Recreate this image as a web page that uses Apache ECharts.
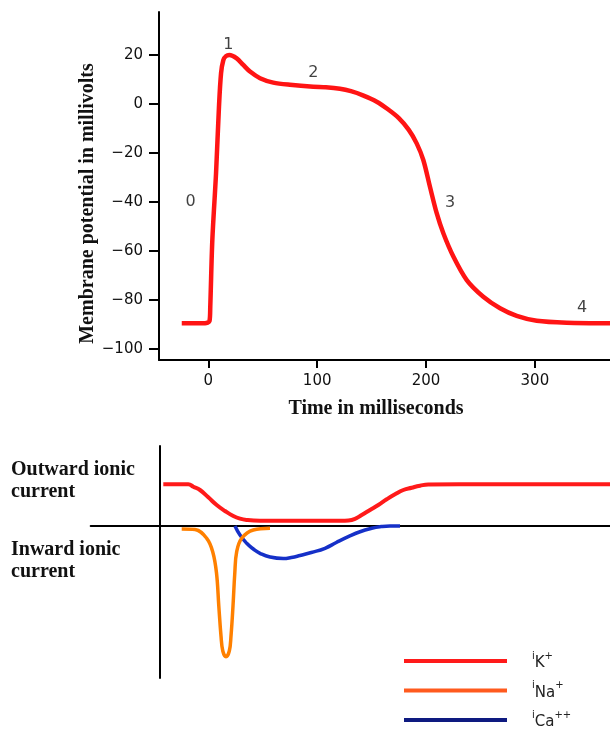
<!DOCTYPE html>
<html>
<head>
<meta charset="utf-8">
<script src="https://cdn.jsdelivr.net/npm/echarts@6/dist/echarts.min.js"></script>
<style>html,body{margin:0;padding:0;background:#fff;}#chart{width:610px;height:733px;}</style>
</head>
<body>
<div id="chart"></div>
<script>
// ---- Action potential (top panel) ----
const apTime = [-24.4, -3.0, 1.1, 1.8, 3.7, 7.1, 9.8, 11.7, 13.8, 16.2, 19.3, 26.1, 32.1, 38.3, 47.5, 59.7, 75.0, 96.4, 108.0, 120.9, 131.0, 142.0, 154.7, 165.0, 175.0, 184.0, 191.4, 197.5, 203.6, 209.8, 215.9, 225.1, 237.4, 252.6, 268.0, 283.3, 301.7, 329.2, 369.0];
const apVolt = [-89.5, -89.5, -88.6, -82.7, -55.5, -28.3, -1.1, 12.5, 17.9, 19.5, 19.95, 18.6, 15.9, 13.2, 10.5, 8.7, 7.8, 7.0, 6.8, 6.2, 5.2, 3.5, 0.9, -2.2, -5.8, -10.5, -16.1, -22.9, -33.8, -44.6, -52.8, -62.3, -71.9, -78.7, -83.4, -86.5, -88.5, -89.3, -89.5];
const phaseLabels = ['0', '1', '2', '3', '4'];
const phaseTime = [-16.2, 18.4, 96.5, 222, 343.3];
const phaseVolt = [-40, 24, 12.5, -40.4, -83.3];
const yTicks = [-100, -80, -60, -40, -20, 0, 20];
const xTicks = [0, 100, 200, 300];

// ---- Ionic currents (bottom panel) ----
const kTime = [4, 29, 34, 40.7, 49, 57.4, 65.7, 74, 80.7, 87.4, 100.7, 140, 182, 189, 195.7, 202.4, 210.7, 219, 227.4, 235.7, 244, 252.4, 260.7, 269, 300, 450.7];
const kCurr = [41.7, 41.7, 39.3, 36, 28.7, 21, 15, 10, 7.3, 6, 5.3, 5.3, 5.3, 5.6, 7.2, 11, 16, 21, 26.7, 31.7, 36, 38.3, 40.3, 41.5, 41.7, 41.7];
const naTime = [22.4, 35.7, 47.4, 53.4, 57.2, 59.5, 61.7, 63.5, 66.7, 70, 71.7, 73.7, 75.5, 77.4, 82.4, 94, 110.7];
const naCurr = [-3, -3.5, -12.3, -25.7, -47, -80, -110, -125, -130.7, -125, -110, -80, -47, -25.7, -12.3, -4, -2.3];
const caTime = [75.7, 80.7, 87.4, 94, 100.7, 110.7, 124, 132, 140.7, 152, 165.7, 177, 189, 200, 212.4, 222, 230.7, 240.7];
const caCurr = [0, -9, -17.3, -23, -27.3, -31, -32.5, -31.5, -29.5, -26.5, -22.3, -16.5, -10.7, -6, -2.3, -0.6, 0, 0];
const seriesNames = ['iK+', 'iNa+', 'iCa++'];
const ionNames = ['K', 'Na', 'Ca'];
const ionCharges = ['+', '+', '++'];

const serif = 'Liberation Serif';
const sans = 'DejaVu Sans';
const pairs = (a, b) => a.map((v, i) => [v, b[i]]);

const chart = echarts.init(document.getElementById('chart'), null, {renderer: 'canvas'});
const option = {
  animation: false,
  backgroundColor: '#ffffff',
  title: [
    {text: 'Outward ionic\ncurrent', left: 11, top: 459,
     textStyle: {fontFamily: serif, fontWeight: 'bold', fontSize: 20, lineHeight: 22, color: '#111'}, padding: 0},
    {text: 'Inward ionic\ncurrent', left: 11, top: 539,
     textStyle: {fontFamily: serif, fontWeight: 'bold', fontSize: 20, lineHeight: 22, color: '#111'}, padding: 0}
  ],
  grid: [
    {left: 159, right: 0, top: 12, bottom: 373},
    {left: 90.7, right: 0, top: 446, bottom: 55}
  ],
  xAxis: [
    {type: 'value', gridIndex: 0, min: -45.3, max: 369,
     axisLine: {onZero: false, lineStyle: {color: '#000', width: 2}},
     axisTick: {customValues: xTicks, length: 8, lineStyle: {color: '#000', width: 2}},
     axisLabel: {customValues: xTicks, margin: 14, color: '#111', fontFamily: sans, fontSize: 15},
     splitLine: {show: false},
     name: 'Time in milliseconds', nameLocation: 'middle', nameGap: 39, nameMoveOverlap: false,
     nameTextStyle: {fontFamily: serif, fontWeight: 'bold', fontSize: 20, color: '#111', padding: [0, 17, 0, 0]}},
    {type: 'value', gridIndex: 1, min: -68.6, max: 450.7,
     axisLine: {onZero: true, lineStyle: {color: '#000', width: 2}},
     axisTick: {show: false}, axisLabel: {show: false}, splitLine: {show: false}}
  ],
  yAxis: [
    {type: 'value', gridIndex: 0, min: -104.5, max: 37.5,
     axisLine: {onZero: false, lineStyle: {color: '#000', width: 2}},
     axisTick: {customValues: yTicks, length: 10, lineStyle: {color: '#000', width: 2}},
     axisLabel: {customValues: yTicks, margin: 16, color: '#111', fontFamily: sans, fontSize: 15,
                 formatter: v => String(v).replace('-', '\u2212')},
     splitLine: {show: false},
     name: 'Membrane potential in millivolts', nameLocation: 'middle', nameRotate: 90, nameGap: 61,
     nameMoveOverlap: false,
     nameTextStyle: {fontFamily: serif, fontWeight: 'bold', fontSize: 20, color: '#111', padding: [0, 35, 0, 0]}},
    {type: 'value', gridIndex: 1, min: -152, max: 80,
     axisLine: {onZero: true, lineStyle: {color: '#000', width: 2}},
     axisTick: {show: false}, axisLabel: {show: false}, splitLine: {show: false}}
  ],
  legend: {
    data: seriesNames, orient: 'vertical', left: 404, top: 651,
    itemWidth: 103, itemHeight: 4, itemGap: 9.5, icon: 'rect', padding: 0,
    itemStyle: {borderWidth: 0},
    formatter: name => {
      const i = seriesNames.indexOf(name);
      return '{s|i}{b|' + ionNames[i] + '}{p|' + ionCharges[i] + '}';
    },
    textStyle: {
      padding: [0, 0, 0, 20], color: '#222', fontFamily: sans, fontSize: 15, lineHeight: 20,
      rich: {
        s: {fontFamily: sans, fontSize: 10, lineHeight: 12, verticalAlign: 'top', color: '#222'},
        b: {fontFamily: sans, fontSize: 15, lineHeight: 20, verticalAlign: 'bottom', color: '#222'},
        p: {fontFamily: sans, fontSize: 10, lineHeight: 16, verticalAlign: 'top', color: '#222'}
      }
    }
  },
  series: [
    {type: 'line', name: 'AP', xAxisIndex: 0, yAxisIndex: 0, data: pairs(apTime, apVolt),
     showSymbol: false, smooth: 0.3, silent: true,
     lineStyle: {color: '#ff1414', width: 4.5}, itemStyle: {color: '#ff1414'}},
    {type: 'scatter', name: 'phases', xAxisIndex: 0, yAxisIndex: 0,
     data: phaseTime.map((t, i) => [t, phaseVolt[i], phaseLabels[i]]),
     symbolSize: 1, itemStyle: {color: 'rgba(0,0,0,0)'}, silent: true,
     label: {show: true, position: 'inside', formatter: p => p.data[2], color: '#111', fontFamily: sans, fontSize: 16}},
    {type: 'line', name: 'iK+', xAxisIndex: 1, yAxisIndex: 1, data: pairs(kTime, kCurr),
     showSymbol: false, smooth: 0.5, silent: true,
     lineStyle: {color: '#ff1a1a', width: 4}, itemStyle: {color: '#ff1a1a'}},
    {type: 'line', name: 'iCa++', xAxisIndex: 1, yAxisIndex: 1, data: pairs(caTime, caCurr),
     showSymbol: false, smooth: 0.5, silent: true,
     lineStyle: {color: '#1530c8', width: 3.5}, itemStyle: {color: '#0e1a80'}},
    {type: 'line', name: 'iNa+', xAxisIndex: 1, yAxisIndex: 1, data: pairs(naTime, naCurr),
     showSymbol: false, smooth: 0.4, silent: true,
     lineStyle: {color: '#ff8000', width: 3.5}, itemStyle: {color: '#ff5a1e'}}
  ]
};
chart.setOption(option);
</script>
</body>
</html>
